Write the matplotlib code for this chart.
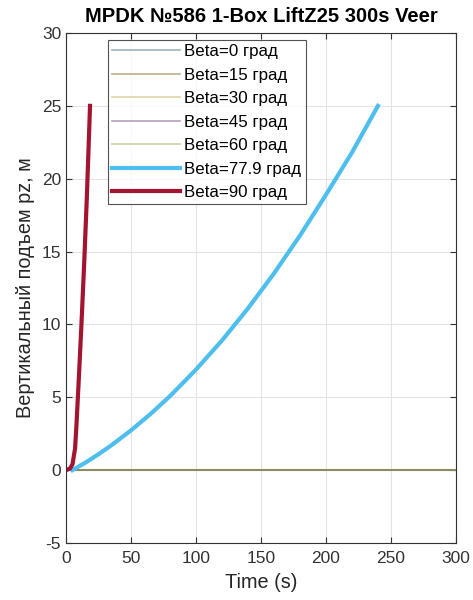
import matplotlib
matplotlib.use('Agg')
import matplotlib.pyplot as plt

# data
flat_t = [0, 300]
flat_z = [0, 0]
flat_labels = ['Beta=0 град', 'Beta=15 град', 'Beta=30 град', 'Beta=45 град', 'Beta=60 град']
flat_colors = ['#9db3bf', '#c2ad8c', '#ddd7a6', '#b3a1b7', '#cfcfa3']

blue_t = [5, 15, 25, 35, 50, 65, 80, 100, 120, 140, 160, 180, 200, 220, 240]
blue_z = [0, 0.52, 1.09, 1.71, 2.73, 3.85, 5.08, 6.9, 8.9, 11.1, 13.5, 16.1, 18.9, 21.8, 25]

red_t = [0, 3, 5, 7, 8, 10, 12, 14, 16, 18.5]
red_z = [0, 0.1, 0.4, 1.5, 3.0, 6.5, 10.2, 14.2, 18.6, 25]

plt.rcParams['font.family'] = ['Liberation Sans', 'DejaVu Sans']
plt.rcParams['axes.unicode_minus'] = False

fig = plt.figure(figsize=(4.73, 6), dpi=100)
ax = fig.add_axes([0.1395, 0.095, 0.8245, 0.85])

for lab, c in zip(flat_labels, flat_colors):
    ax.plot(flat_t, flat_z, color=c, lw=1.2, label=lab)
ax.plot(flat_t, flat_z, color='#8c8c62', lw=1.5)  # overlapped zero lines
ax.plot(blue_t, blue_z, color='#4dbeee', lw=3, label='Beta=77.9 град')
ax.plot(red_t, red_z, color='#a2142f', lw=3, label='Beta=90 град')

ax.set_xlim(0, 300)
ax.set_ylim(-5, 30)
ax.set_xticks(range(0, 301, 50))
ax.set_yticks(range(-5, 31, 5))
ax.grid(True, color='#e4e4e4', lw=0.8)
ax.tick_params(direction='in', top=True, right=True, labelsize=12.5,
               colors='#333333', length=4)
ax.tick_params(axis='x', pad=6)
for s in ax.spines.values():
    s.set_color('#333333')
    s.set_linewidth(0.8)

ax.set_xlabel('Time (s)', fontsize=14.3, color='#262626', labelpad=5)
ax.set_ylabel('Вертикальный подъем pz, м', fontsize=14.3, color='#262626',
              labelpad=5)
ax.set_title('MPDK №586 1-Box LiftZ25 300s Veer', fontsize=14.5,
             fontweight='bold', pad=8)

leg = ax.legend(loc='upper left', bbox_to_anchor=(0.108, 0.986), fontsize=12.2,
                frameon=True, fancybox=False, edgecolor='#262626',
                handlelength=4.0, borderpad=0.25, labelspacing=0.5,
                handletextpad=0.25, borderaxespad=0)
leg.get_frame().set_linewidth(0.8)

fig.savefig('out.png', dpi=100)
